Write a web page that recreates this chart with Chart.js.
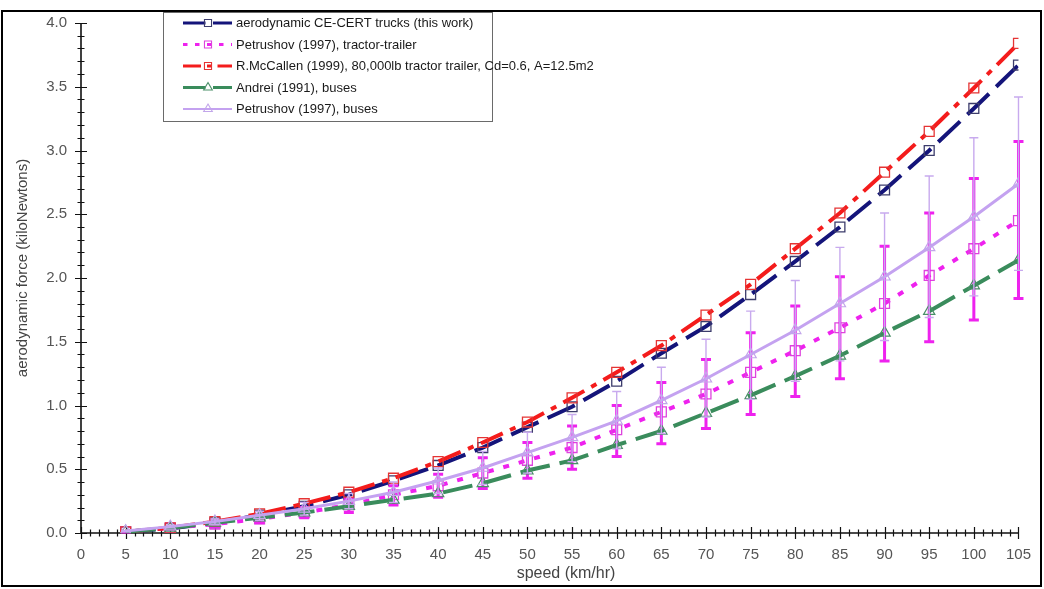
<!DOCTYPE html>
<html>
<head>
<meta charset="utf-8">
<script src="https://cdn.jsdelivr.net/npm/chart.js@4.4.1/dist/chart.umd.min.js"></script>
<style>
  html, body { margin: 0; padding: 0; background: #fff; }
  #wrap { position: relative; width: 1044px; height: 589px; }
</style>
</head>
<body>
<div id="wrap"><canvas id="c" width="1044" height="589"></canvas></div>
<script>
// Vehicle speed (km/hr) at which each force was evaluated
const speeds = [5, 10, 15, 20, 25, 30, 35, 40, 45, 50, 55, 60, 65, 70, 75, 80, 85, 90, 95, 100, 105];

// Aerodynamic force in kN
const ceCertTrucks = [0.01, 0.035, 0.08, 0.14, 0.21, 0.30, 0.41, 0.53, 0.67, 0.83, 0.99, 1.19, 1.41, 1.62, 1.87, 2.13, 2.40, 2.69, 3.00, 3.33, 3.67];
const petrushovTractor = [0.01, 0.04, 0.07, 0.11, 0.16, 0.22, 0.30, 0.37, 0.47, 0.57, 0.67, 0.81, 0.95, 1.09, 1.26, 1.43, 1.61, 1.80, 2.02, 2.23, 2.45];
const petrushovTractorHigh = [0.012, 0.05, 0.09, 0.14, 0.20, 0.27, 0.37, 0.46, 0.59, 0.71, 0.84, 1.00, 1.18, 1.36, 1.57, 1.78, 2.01, 2.25, 2.51, 2.78, 3.07];
const petrushovTractorLow = [0.008, 0.03, 0.05, 0.08, 0.12, 0.16, 0.22, 0.28, 0.35, 0.43, 0.50, 0.60, 0.70, 0.82, 0.93, 1.07, 1.21, 1.35, 1.50, 1.67, 1.84];
const mcCallenTractor = [0.01, 0.04, 0.09, 0.15, 0.23, 0.32, 0.43, 0.56, 0.71, 0.87, 1.06, 1.26, 1.47, 1.71, 1.95, 2.23, 2.51, 2.83, 3.15, 3.49, 3.84];
const andreiBuses = [0.01, 0.04, 0.08, 0.12, 0.16, 0.21, 0.26, 0.31, 0.39, 0.49, 0.57, 0.69, 0.80, 0.94, 1.08, 1.23, 1.39, 1.57, 1.74, 1.94, 2.14];
const petrushovBuses = [0.015, 0.05, 0.09, 0.14, 0.19, 0.25, 0.32, 0.41, 0.51, 0.63, 0.75, 0.88, 1.04, 1.21, 1.40, 1.59, 1.80, 2.01, 2.24, 2.48, 2.74];
const petrushovBusesHigh = [0.02, 0.06, 0.11, 0.17, 0.24, 0.31, 0.40, 0.51, 0.64, 0.79, 0.93, 1.11, 1.30, 1.52, 1.74, 1.98, 2.24, 2.51, 2.80, 3.10, 3.42];
const petrushovBusesLow = [0.01, 0.04, 0.07, 0.10, 0.14, 0.19, 0.24, 0.31, 0.38, 0.47, 0.56, 0.66, 0.78, 0.91, 1.05, 1.19, 1.35, 1.51, 1.69, 1.86, 2.06];

const seriesLabels = [
  'aerodynamic CE-CERT trucks (this work)',
  'Petrushov (1997), tractor-trailer',
  'R.McCallen (1999), 80,000lb tractor trailer, Cd=0.6, A=12.5m2',
  'Andrei (1991), buses',
  'Petrushov (1997), buses'
];

// Axis tick layout
const xRange = { min: 0, max: 105, major: 5, minor: 1 };
const yRange = { min: 0, max: 4, major: 0.5, minor: 0.1 };
const xTitle = 'speed (km/hr)';
const yTitle = 'aerodynamic force (kiloNewtons)';

const FONT = "'Liberation Sans', Arial, sans-serif";
const pts = (arr) => speeds.map((s, i) => ({ x: s, y: arr[i] }));

const datasets = [
  {
    label: seriesLabels[0], data: pts(ceCertTrucks), order: 5,
    borderColor: '#14147a', borderWidth: 4, borderDash: [30, 10],
    pointStyle: 'rect', pointRadius: 7, pointBorderWidth: 1.3,
    pointBorderColor: '#3c3c6c', pointBackgroundColor: 'rgba(0,0,0,0)'
  },
  {
    label: seriesLabels[1], data: pts(petrushovTractor), order: 4,
    borderColor: '#ee22ee', borderWidth: 4, borderDash: [6, 10],
    pointStyle: 'rect', pointRadius: 7, pointBorderWidth: 1.3,
    pointBorderColor: '#dd44dd', pointBackgroundColor: 'rgba(0,0,0,0)',
    errHigh: petrushovTractorHigh, errLow: petrushovTractorLow,
    errColor: '#ee22ee', errWidth: 3, errCap: 10
  },
  {
    label: seriesLabels[2], data: pts(mcCallenTractor), order: 3,
    borderColor: '#f41c1c', borderWidth: 4, borderDash: [24, 8, 6, 8],
    pointStyle: 'rect', pointRadius: 7, pointBorderWidth: 1.3,
    pointBorderColor: '#e53434', pointBackgroundColor: 'rgba(0,0,0,0)'
  },
  {
    label: seriesLabels[3], data: pts(andreiBuses), order: 2,
    borderColor: '#3a8c5c', borderWidth: 4, borderDash: [30, 10],
    pointStyle: 'triangle', pointRadius: 6.5, pointBorderWidth: 1.2,
    pointBorderColor: '#4a8f68', pointBackgroundColor: 'rgba(0,0,0,0)'
  },
  {
    label: seriesLabels[4], data: pts(petrushovBuses), order: 1,
    borderColor: '#c4a2f0', borderWidth: 3, borderDash: [],
    pointStyle: 'triangle', pointRadius: 6.5, pointBorderWidth: 1.2,
    pointBorderColor: '#c2a6ea', pointBackgroundColor: 'rgba(0,0,0,0)',
    errHigh: petrushovBusesHigh, errLow: petrushovBusesLow,
    errColor: '#c8aaee', errWidth: 1.4, errCap: 9
  }
];

// Vertical error bars, drawn right after their own series
const errorBars = {
  id: 'errorBars',
  afterDatasetDraw(chart, args) {
    const ds = chart.data.datasets[args.index];
    if (!ds.errHigh) return;
    const { ctx, scales: { x, y } } = chart;
    ctx.save();
    ctx.strokeStyle = ds.errColor;
    ctx.lineWidth = ds.errWidth;
    ctx.lineCap = 'butt';
    speeds.forEach((s, i) => {
      const px = x.getPixelForValue(s);
      const hi = y.getPixelForValue(ds.errHigh[i]);
      const lo = y.getPixelForValue(ds.errLow[i]);
      const h = ds.errCap / 2;
      ctx.beginPath();
      ctx.moveTo(px, hi); ctx.lineTo(px, lo);
      ctx.moveTo(px - h, hi); ctx.lineTo(px + h, hi);
      ctx.moveTo(px - h, lo); ctx.lineTo(px + h, lo);
      ctx.stroke();
    });
    ctx.restore();
  }
};

// Axis lines with crossing major/minor tick marks
const crossAxes = {
  id: 'crossAxes',
  beforeDatasetsDraw(chart) {
    const { ctx, scales: { x, y } } = chart;
    const x0 = x.getPixelForValue(xRange.min);
    const y0 = y.getPixelForValue(yRange.min);
    ctx.save();
    ctx.strokeStyle = '#111';
    ctx.lineWidth = 1.6;
    ctx.beginPath();
    ctx.moveTo(x0, y.getPixelForValue(yRange.max));
    ctx.lineTo(x0, y0);
    ctx.lineTo(x.getPixelForValue(xRange.max), y0);
    ctx.stroke();
    ctx.lineWidth = 1.2;
    ctx.beginPath();
    const nx = Math.round((xRange.max - xRange.min) / xRange.minor);
    const perX = Math.round(xRange.major / xRange.minor);
    for (let i = 0; i <= nx; i++) {
      const px = Math.round(x.getPixelForValue(xRange.min + i * xRange.minor)) + 0.5;
      const big = i % perX === 0;
      ctx.moveTo(px, y0 - (big ? 6 : 3.5));
      ctx.lineTo(px, y0 + (big ? 6 : 3.5));
    }
    const ny = Math.round((yRange.max - yRange.min) / yRange.minor);
    const perY = Math.round(yRange.major / yRange.minor);
    for (let j = 0; j <= ny; j++) {
      const py = Math.round(y.getPixelForValue(yRange.min + j * yRange.minor)) + 0.5;
      const big = j % perY === 0;
      ctx.moveTo(x0 - (big ? 6 : 3.5), py);
      ctx.lineTo(x0 + (big ? 6 : 3.5), py);
    }
    ctx.stroke();
    ctx.restore();
  }
};

// Legend box, axis titles and outer frame
const decorations = {
  id: 'decorations',
  afterDraw(chart) {
    const { ctx, chartArea } = chart;
    const H = Chart.helpers;
    ctx.save();

    // legend
    ctx.fillStyle = '#fff';
    ctx.fillRect(163, 12, 329, 109);
    ctx.strokeStyle = '#6a6a6a';
    ctx.lineWidth = 1;
    ctx.strokeRect(163.5, 12.5, 329, 109);
    ctx.font = '13px ' + FONT;
    ctx.textBaseline = 'middle';
    ctx.textAlign = 'left';
    const rowY = [23, 44.5, 66, 87.5, 109];
    datasets.forEach((ds, i) => {
      const yy = rowY[i];
      ctx.save();
      ctx.strokeStyle = ds.borderColor;
      ctx.lineWidth = ds.borderWidth - 1;
      ctx.setLineDash(ds.borderDash.length ? ds.borderDash.map(v => v * 0.75) : []);
      ctx.beginPath();
      ctx.moveTo(183, yy);
      ctx.lineTo(232, yy);
      ctx.stroke();
      ctx.restore();
      ctx.save();
      ctx.strokeStyle = ds.pointBorderColor;
      ctx.fillStyle = 'rgba(0,0,0,0)';
      ctx.lineWidth = 1.1;
      H.drawPoint(ctx, { pointStyle: ds.pointStyle, radius: 5, rotation: 0, borderWidth: 1.1 }, 208, yy);
      ctx.restore();
      ctx.fillStyle = '#1a1a1a';
      ctx.fillText(ds.label, 236, yy + 0.5);
    });

    // axis titles
    ctx.fillStyle = '#444';
    ctx.font = '16px ' + FONT;
    ctx.textAlign = 'center';
    ctx.textBaseline = 'middle';
    ctx.fillText(xTitle, 566, 574);
    ctx.save();
    ctx.translate(23, (chartArea.top + chartArea.bottom) / 2 - 10);
    ctx.rotate(-Math.PI / 2);
    ctx.font = '15px ' + FONT;
    ctx.fillText(yTitle, 0, 0);
    ctx.restore();

    // frame
    ctx.strokeStyle = '#000';
    ctx.lineWidth = 2;
    ctx.strokeRect(2, 11, 1039, 575);
    ctx.restore();
  }
};

new Chart(document.getElementById('c'), {
  type: 'line',
  data: { datasets },
  options: {
    responsive: false,
    animation: false,
    devicePixelRatio: 1,
    layout: { padding: { left: 0, right: 24, top: 20, bottom: 0 } },
    elements: { line: { tension: 0, fill: false } },
    plugins: { legend: { display: false }, tooltip: { enabled: false } },
    scales: {
      x: {
        type: 'linear', min: xRange.min, max: xRange.max,
        grid: { display: false, drawTicks: false }, border: { display: false },
        ticks: { stepSize: xRange.major, padding: 13, color: '#555', font: { family: FONT, size: 15 }, maxRotation: 0, autoSkip: false },
        afterFit(s) { s.height = 56; }
      },
      y: {
        type: 'linear', min: yRange.min, max: yRange.max,
        grid: { display: false, drawTicks: false }, border: { display: false },
        ticks: { stepSize: yRange.major, padding: 14, color: '#555', font: { family: FONT, size: 15 }, callback: v => v.toFixed(1) },
        afterFit(s) { s.width = 81; }
      }
    }
  },
  plugins: [errorBars, crossAxes, decorations]
});
</script>
</body>
</html>
